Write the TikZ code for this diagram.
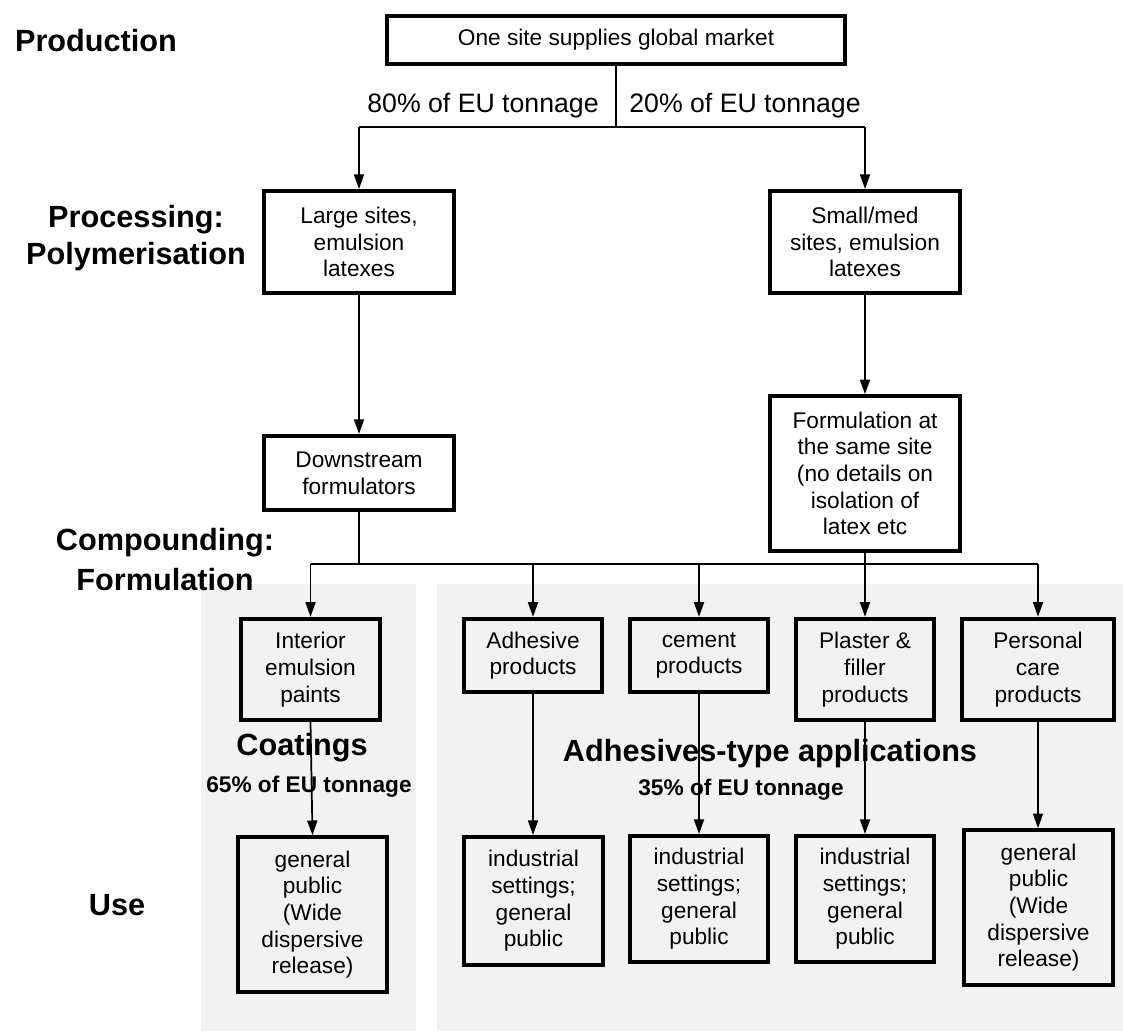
\documentclass[tikz,border=0pt]{standalone}
\usepackage{fontspec}
\setmainfont{Liberation Sans}
\usetikzlibrary{arrows.meta}
\definecolor{panelgray}{HTML}{F2F2F2}
\begin{document}
\begin{tikzpicture}[x=0.75pt,y=-0.75pt,
  box/.style={draw=black, line width=3pt, align=center, inner sep=0pt,
    font=\fontsize{17}{20}\selectfont},
  conn/.style={line width=1.3pt},
  arr/.style={line width=1.3pt, -{Triangle[length=11pt,width=7.5pt]}},
  stage/.style={font=\fontsize{23}{26}\selectfont\bfseries, inner sep=0pt},
  pct/.style={font=\fontsize{20}{23}\selectfont, inner sep=0pt},
  bpct/.style={font=\fontsize{17}{20}\selectfont\bfseries, inner sep=0pt}]
\useasboundingbox (0,0) rectangle (1123,1035);
% panels
\fill[panelgray] (201,584) rectangle (416,1031);
\fill[panelgray] (437,584) rectangle (1123,1031);
% stage labels
\node[stage] (sProd) at (96,41) {Production};
\node[stage] (sProc) at (136,220) {Processing:};
\node[stage] (sPoly) at (136,257) {Polymerisation};
\node[stage] (sComp) at (165,543) {Compounding:};
\node[stage] (sForm) at (165,580) {Formulation};
\node[stage] (sUse) at (117,905) {Use};
\node[stage] (tCoat) at (302,748) {Coatings};
\node[bpct] (tCoatP) at (309,787) {65\% of EU tonnage};
\node[stage] (tAdh) at (770,754) {Adhesives-type applications};
\node[bpct] (tAdhP) at (741,790) {35\% of EU tonnage};
\node[pct] (p80) at (483,106) {80\% of EU tonnage};
\node[pct] (p20) at (745,106) {20\% of EU tonnage};
% boxes
\node[box, minimum width=343.5pt, minimum height=36pt] (top) at (616,40) {One site supplies global market};
\node[box, minimum width=143pt, minimum height=76.5pt] (L) at (359,242) {Large sites,\\emulsion\\latexes};
\node[box, minimum width=143pt, minimum height=76.5pt] (R) at (865,242) {Small/med\\sites, emulsion\\latexes};
\node[box, minimum width=143pt, minimum height=55.5pt] (DS) at (359,473) {Downstream\\formulators};
\node[box, minimum width=142.5pt, minimum height=116pt] (FS) at (865,473.5) {Formulation at\\the same site\\(no details on\\isolation of\\latex etc};
\node[box, minimum width=104pt, minimum height=76pt] (IP) at (310.5,669.5) {Interior\\emulsion\\paints};
\node[box, minimum width=103.5pt, minimum height=55pt] (AP) at (533,655.5) {Adhesive\\products};
\node[box, minimum width=103.5pt, minimum height=55pt] (CP) at (699,655.5) {cement\\products};
\node[box, minimum width=103.5pt, minimum height=76pt] (PF) at (865,669.5) {Plaster \&\\filler\\products};
\node[box, minimum width=114pt, minimum height=76pt] (PC) at (1038,669.5) {Personal\\care\\products};
\node[box, minimum width=112pt, minimum height=116pt] (GL) at (312.5,914.5) {general\\public\\(Wide\\dispersive\\release)};
\node[box, minimum width=104pt, minimum height=96pt] (I1) at (533.5,901) {industrial\\settings;\\general\\public};
\node[box, minimum width=103.5pt, minimum height=94.5pt] (I2) at (699,899) {industrial\\settings;\\general\\public};
\node[box, minimum width=103.5pt, minimum height=94.5pt] (I3) at (865,899) {industrial\\settings;\\general\\public};
\node[box, minimum width=112pt, minimum height=116pt] (GR) at (1038.5,907.5) {general\\public\\(Wide\\dispersive\\release)};
% bus coordinates
\coordinate (b1) at (615,127);
\coordinate (b2) at (0,564);
% top split
\draw[conn] (top.south) -- (top.south |- b1);
\draw[conn] (L.north |- b1) -- (R.north |- b1);
\draw[arr] (L.north |- b1) -- (L.north);
\draw[arr] (R.north |- b1) -- (R.north);
% processing to formulation
\draw[arr] (L.south) -- (DS.north);
\draw[arr] (R.south) -- (FS.north);
% formulation bus
\draw[conn] (DS.south) -- (DS.south |- b2);
\draw[conn] (FS.south) -- (FS.south |- b2);
\draw[conn] (IP.north |- b2) -- (PC.north |- b2);
\draw[arr] (IP.north |- b2) -- (IP.north);
\draw[arr] (AP.north |- b2) -- (AP.north);
\draw[arr] (CP.north |- b2) -- (CP.north);
\draw[arr] (PF.north |- b2) -- (PF.north);
\draw[arr] (PC.north |- b2) -- (PC.north);
% use arrows
\draw[arr] (IP.south) -- (GL.north);
\draw[arr] (AP.south) -- (AP.south |- I1.north);
\draw[arr] (CP.south) -- (CP.south |- I2.north);
\draw[arr] (PF.south) -- (PF.south |- I3.north);
\draw[arr] (PC.south) -- (PC.south |- GR.north);
\end{tikzpicture}
\end{document}
